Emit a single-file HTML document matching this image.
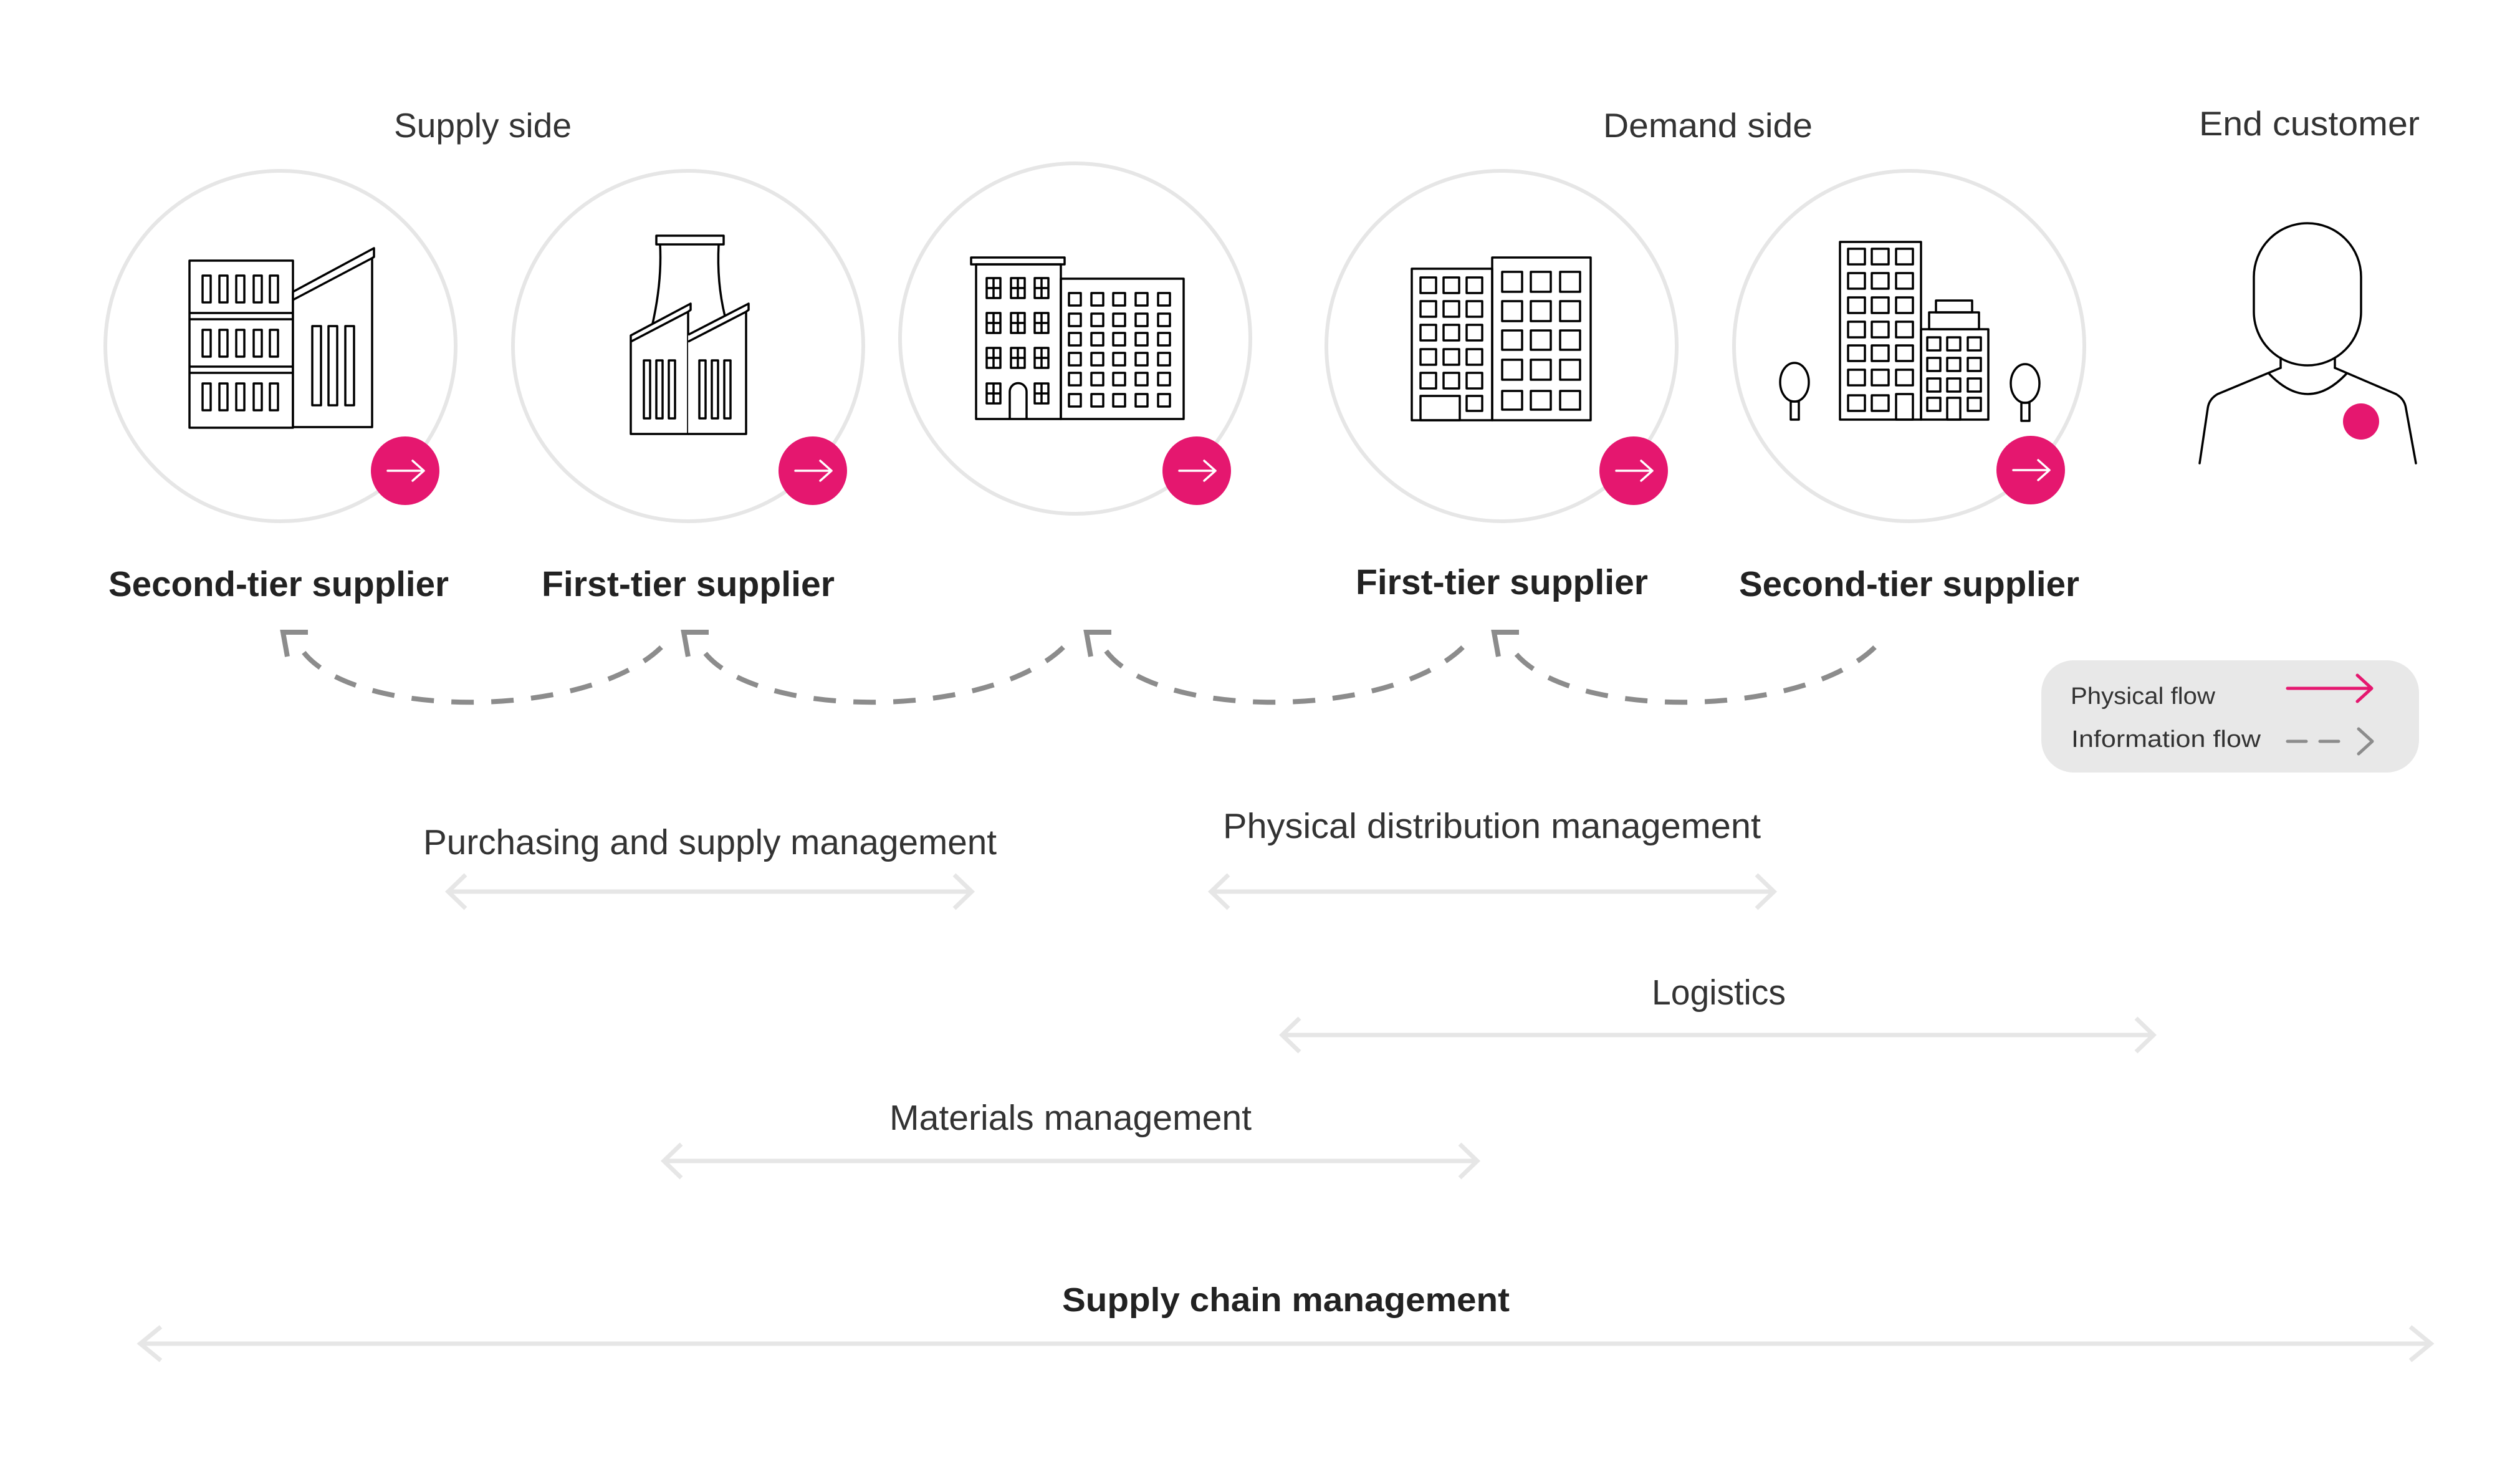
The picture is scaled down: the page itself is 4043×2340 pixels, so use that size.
<!DOCTYPE html>
<html>
<head>
<meta charset="utf-8">
<style>
  html,body{margin:0;padding:0;background:#fff;}
  svg{display:block;}
  text{font-family:"Liberation Sans",Arial,sans-serif;}
</style>
</head>
<body>
<svg width="4043" height="2340" viewBox="0 0 4043 2340" xmlns="http://www.w3.org/2000/svg">
  <rect x="0" y="0" width="4043" height="2340" fill="#ffffff"/>

  <!-- Headings -->
  <g fill="#333333" font-size="55">
    <text x="632" y="220" textLength="285" lengthAdjust="spacingAndGlyphs">Supply side</text>
    <text x="2572" y="220" textLength="336" lengthAdjust="spacingAndGlyphs">Demand side</text>
    <text x="3528" y="217" textLength="354" lengthAdjust="spacingAndGlyphs">End customer</text>
  </g>

  <!-- Circles -->
  <g fill="none" stroke="#e6e6e6" stroke-width="6">
    <circle cx="450" cy="555" r="281"/>
    <circle cx="1104" cy="555" r="281"/>
    <circle cx="1725" cy="543" r="281"/>
    <circle cx="2409" cy="555" r="281"/>
    <circle cx="3063" cy="555" r="281"/>
  </g>

  <!-- Icon 1: second-tier factory -->
  <g fill="none" stroke="#000" stroke-width="3.5" stroke-linejoin="round">
    <rect x="304" y="418" width="166" height="268" fill="#fff"/>
    <line x1="304" y1="502" x2="470" y2="502"/>
    <line x1="304" y1="512" x2="470" y2="512"/>
    <line x1="304" y1="588" x2="470" y2="588"/>
    <line x1="304" y1="598" x2="470" y2="598"/>
    <g>
      <rect x="325" y="442" width="13" height="43"/><rect x="352" y="442" width="13" height="43"/><rect x="379" y="442" width="13" height="43"/><rect x="407" y="442" width="13" height="43"/><rect x="433" y="442" width="13" height="43"/>
      <rect x="325" y="529" width="13" height="43"/><rect x="352" y="529" width="13" height="43"/><rect x="379" y="529" width="13" height="43"/><rect x="407" y="529" width="13" height="43"/><rect x="433" y="529" width="13" height="43"/>
      <rect x="325" y="615" width="13" height="43"/><rect x="352" y="615" width="13" height="43"/><rect x="379" y="615" width="13" height="43"/><rect x="407" y="615" width="13" height="43"/><rect x="433" y="615" width="13" height="43"/>
    </g>
    <path d="M470,468 L600,398 L600,412 L597,414 L597,685 L470,685 Z" fill="#fff"/>
    <line x1="470" y1="481" x2="597" y2="414"/>
    <rect x="501" y="523" width="14" height="127"/>
    <rect x="527" y="523" width="14" height="127"/>
    <rect x="554" y="523" width="14" height="127"/>
  </g>

  <!-- Icon 2: first-tier factory with chimney -->
  <g fill="none" stroke="#000" stroke-width="3.5" stroke-linejoin="round">
    <rect x="1053" y="378" width="108" height="14"/>
    <path d="M1059,392 C1061,430 1058,470 1047,519"/>
    <path d="M1153,392 C1151,430 1154,470 1163,507"/>
    <path d="M1012,696 L1012,538 L1108,487 L1108,497 L1104,500 L1104,696 Z" fill="#fff"/>
    <line x1="1012" y1="548" x2="1104" y2="500"/>
    <path d="M1104,537 L1201,487 L1201,497 L1197,500 L1197,696 L1104,696" fill="#fff"/>
    <line x1="1104" y1="548" x2="1197" y2="500"/>
    <rect x="1033" y="578" width="10" height="93"/>
    <rect x="1053" y="578" width="10" height="93"/>
    <rect x="1073" y="578" width="10" height="93"/>
    <rect x="1122" y="578" width="10" height="93"/>
    <rect x="1142" y="578" width="10" height="93"/>
    <rect x="1162" y="578" width="10" height="93"/>
  </g>

  <!-- Icon 3: buildings -->
  <g fill="none" stroke="#000" stroke-width="3.5" stroke-linejoin="round">
    <rect x="1558" y="413" width="150" height="11"/>
    <rect x="1566" y="424" width="136" height="248"/>
    <rect x="1702" y="447" width="197" height="225"/>
    <rect x="1583" y="446" width="22" height="32"/><line x1="1594" y1="446" x2="1594" y2="478"/><line x1="1583" y1="462" x2="1605" y2="462"/>
    <rect x="1622" y="446" width="22" height="32"/><line x1="1633" y1="446" x2="1633" y2="478"/><line x1="1622" y1="462" x2="1644" y2="462"/>
    <rect x="1660" y="446" width="22" height="32"/><line x1="1671" y1="446" x2="1671" y2="478"/><line x1="1660" y1="462" x2="1682" y2="462"/>
    <rect x="1583" y="502" width="22" height="32"/><line x1="1594" y1="502" x2="1594" y2="534"/><line x1="1583" y1="518" x2="1605" y2="518"/>
    <rect x="1622" y="502" width="22" height="32"/><line x1="1633" y1="502" x2="1633" y2="534"/><line x1="1622" y1="518" x2="1644" y2="518"/>
    <rect x="1660" y="502" width="22" height="32"/><line x1="1671" y1="502" x2="1671" y2="534"/><line x1="1660" y1="518" x2="1682" y2="518"/>
    <rect x="1583" y="558" width="22" height="32"/><line x1="1594" y1="558" x2="1594" y2="590"/><line x1="1583" y1="574" x2="1605" y2="574"/>
    <rect x="1622" y="558" width="22" height="32"/><line x1="1633" y1="558" x2="1633" y2="590"/><line x1="1622" y1="574" x2="1644" y2="574"/>
    <rect x="1660" y="558" width="22" height="32"/><line x1="1671" y1="558" x2="1671" y2="590"/><line x1="1660" y1="574" x2="1682" y2="574"/>
    <rect x="1583" y="615" width="22" height="32"/><line x1="1594" y1="615" x2="1594" y2="647"/><line x1="1583" y1="631" x2="1605" y2="631"/>
    <rect x="1660" y="615" width="22" height="32"/><line x1="1671" y1="615" x2="1671" y2="647"/><line x1="1660" y1="631" x2="1682" y2="631"/>
    <path d="M1620,672 L1620,628 A13.5,13.5 0 0 1 1647,628 L1647,672"/>
    <g>
      <rect x="1715" y="470" width="19" height="20"/><rect x="1751" y="470" width="19" height="20"/><rect x="1786" y="470" width="19" height="20"/><rect x="1822" y="470" width="19" height="20"/><rect x="1858" y="470" width="19" height="20"/>
      <rect x="1715" y="503" width="19" height="20"/><rect x="1751" y="503" width="19" height="20"/><rect x="1786" y="503" width="19" height="20"/><rect x="1822" y="503" width="19" height="20"/><rect x="1858" y="503" width="19" height="20"/>
      <rect x="1715" y="534" width="19" height="20"/><rect x="1751" y="534" width="19" height="20"/><rect x="1786" y="534" width="19" height="20"/><rect x="1822" y="534" width="19" height="20"/><rect x="1858" y="534" width="19" height="20"/>
      <rect x="1715" y="566" width="19" height="20"/><rect x="1751" y="566" width="19" height="20"/><rect x="1786" y="566" width="19" height="20"/><rect x="1822" y="566" width="19" height="20"/><rect x="1858" y="566" width="19" height="20"/>
      <rect x="1715" y="598" width="19" height="20"/><rect x="1751" y="598" width="19" height="20"/><rect x="1786" y="598" width="19" height="20"/><rect x="1822" y="598" width="19" height="20"/><rect x="1858" y="598" width="19" height="20"/>
      <rect x="1715" y="632" width="19" height="20"/><rect x="1751" y="632" width="19" height="20"/><rect x="1786" y="632" width="19" height="20"/><rect x="1822" y="632" width="19" height="20"/><rect x="1858" y="632" width="19" height="20"/>
    </g>
  </g>

  <!-- Icon 4: office buildings -->
  <g fill="none" stroke="#000" stroke-width="3.5" stroke-linejoin="round">
    <rect x="2265" y="431" width="129" height="243"/>
    <rect x="2394" y="413" width="158" height="261"/>
    <g>
      <rect x="2279" y="445" width="25" height="25"/><rect x="2316" y="445" width="25" height="25"/><rect x="2353" y="445" width="25" height="25"/>
      <rect x="2279" y="483" width="25" height="25"/><rect x="2316" y="483" width="25" height="25"/><rect x="2353" y="483" width="25" height="25"/>
      <rect x="2279" y="521" width="25" height="25"/><rect x="2316" y="521" width="25" height="25"/><rect x="2353" y="521" width="25" height="25"/>
      <rect x="2279" y="560" width="25" height="25"/><rect x="2316" y="560" width="25" height="25"/><rect x="2353" y="560" width="25" height="25"/>
      <rect x="2279" y="598" width="25" height="25"/><rect x="2316" y="598" width="25" height="25"/><rect x="2353" y="598" width="25" height="25"/>
      <rect x="2279" y="635" width="63" height="39"/>
      <rect x="2353" y="635" width="25" height="24"/>
    </g>
    <g>
      <rect x="2410" y="436" width="32" height="32"/><rect x="2456" y="436" width="32" height="32"/><rect x="2503" y="436" width="32" height="32"/>
      <rect x="2410" y="483" width="32" height="32"/><rect x="2456" y="483" width="32" height="32"/><rect x="2503" y="483" width="32" height="32"/>
      <rect x="2410" y="530" width="32" height="31"/><rect x="2456" y="530" width="32" height="31"/><rect x="2503" y="530" width="32" height="31"/>
      <rect x="2410" y="577" width="32" height="32"/><rect x="2456" y="577" width="32" height="32"/><rect x="2503" y="577" width="32" height="32"/>
      <rect x="2410" y="627" width="32" height="30"/><rect x="2456" y="627" width="32" height="30"/><rect x="2503" y="627" width="32" height="30"/>
    </g>
  </g>

  <!-- Icon 5: tower with trees -->
  <g fill="none" stroke="#000" stroke-width="3.5" stroke-linejoin="round">
    <ellipse cx="2879" cy="613" rx="23" ry="31"/>
    <rect x="2873" y="644" width="13" height="29"/>
    <ellipse cx="3249" cy="615" rx="23" ry="31"/>
    <rect x="3243" y="646" width="13" height="29"/>
    <rect x="2952" y="388" width="130" height="285"/>
    <g>
      <rect x="2965" y="399" width="27" height="25"/><rect x="3003" y="399" width="27" height="25"/><rect x="3042" y="399" width="27" height="25"/>
      <rect x="2965" y="438" width="27" height="25"/><rect x="3003" y="438" width="27" height="25"/><rect x="3042" y="438" width="27" height="25"/>
      <rect x="2965" y="477" width="27" height="25"/><rect x="3003" y="477" width="27" height="25"/><rect x="3042" y="477" width="27" height="25"/>
      <rect x="2965" y="516" width="27" height="25"/><rect x="3003" y="516" width="27" height="25"/><rect x="3042" y="516" width="27" height="25"/>
      <rect x="2965" y="554" width="27" height="25"/><rect x="3003" y="554" width="27" height="25"/><rect x="3042" y="554" width="27" height="25"/>
      <rect x="2965" y="593" width="27" height="25"/><rect x="3003" y="593" width="27" height="25"/><rect x="3042" y="593" width="27" height="25"/>
      <rect x="2965" y="634" width="27" height="25"/><rect x="3003" y="634" width="27" height="25"/>
      <rect x="3042" y="632" width="27" height="41"/>
    </g>
    <rect x="3106" y="482" width="58" height="19"/>
    <rect x="3095" y="501" width="80" height="27"/>
    <rect x="3082" y="528" width="108" height="145"/>
    <g>
      <rect x="3092" y="541" width="21" height="21"/><rect x="3124" y="541" width="21" height="21"/><rect x="3157" y="541" width="21" height="21"/>
      <rect x="3092" y="574" width="21" height="21"/><rect x="3124" y="574" width="21" height="21"/><rect x="3157" y="574" width="21" height="21"/>
      <rect x="3092" y="607" width="21" height="21"/><rect x="3124" y="607" width="21" height="21"/><rect x="3157" y="607" width="21" height="21"/>
      <rect x="3092" y="638" width="21" height="21"/><rect x="3157" y="638" width="21" height="21"/>
      <rect x="3124" y="638" width="21" height="35"/>
    </g>
  </g>

  <!-- Person -->
  <g fill="none" stroke="#000" stroke-width="3.5" stroke-linejoin="round" stroke-linecap="round">
    <path d="M3616,500 L3616,444 A86,86 0 0 1 3788,444 L3788,500 A86,86 0 0 1 3616,500 Z"/>
    <line x1="3659" y1="574" x2="3659" y2="590"/>
    <line x1="3746" y1="574" x2="3746" y2="590"/>
    <path d="M3659,590 L3558,632 Q3544,640 3542,655 L3529,743"/>
    <path d="M3746,590 L3844,632 Q3858,640 3860,655 L3876,743"/>
    <path d="M3641,600 Q3703,664 3764,600"/>
  </g>
  <circle cx="3788" cy="676" r="29" fill="#e5176f"/>

  <!-- Pink badges -->
  <g>
    <circle cx="650" cy="755" r="55" fill="#e5176f"/>
    <circle cx="1304" cy="755" r="55" fill="#e5176f"/>
    <circle cx="1920" cy="755" r="55" fill="#e5176f"/>
    <circle cx="2621" cy="755" r="55" fill="#e5176f"/>
    <circle cx="3258" cy="754" r="55" fill="#e5176f"/>
  </g>
  <g fill="none" stroke="#fff" stroke-width="3.5" stroke-linecap="round" stroke-linejoin="round">
    <path d="M622,755 L680,755 M662,739 L680,755 L662,771"/>
    <path d="M1276,755 L1334,755 M1316,739 L1334,755 L1316,771"/>
    <path d="M1892,755 L1950,755 M1932,739 L1950,755 L1932,771"/>
    <path d="M2593,755 L2651,755 M2633,739 L2651,755 L2633,771"/>
    <path d="M3230,754 L3288,754 M3270,738 L3288,754 L3270,770"/>
  </g>

  <!-- Bold labels -->
  <g fill="#222222" font-size="57" font-weight="bold">
    <text x="174" y="956" textLength="546" lengthAdjust="spacingAndGlyphs">Second-tier supplier</text>
    <text x="869" y="956" textLength="470" lengthAdjust="spacingAndGlyphs">First-tier supplier</text>
    <text x="2175" y="953" textLength="469" lengthAdjust="spacingAndGlyphs">First-tier supplier</text>
    <text x="2790" y="956" textLength="546" lengthAdjust="spacingAndGlyphs">Second-tier supplier</text>
  </g>

  <!-- Dashed information flow arcs -->
  <g fill="none" stroke="#8c8c8c" stroke-width="8">
    <path d="M1061,1038 C941,1155 564,1155 484,1042" stroke-dasharray="36 28"/>
    <path d="M1706,1038 C1586,1155 1207,1155 1127,1042" stroke-dasharray="36 28"/>
    <path d="M2347,1038 C2227,1155 1853,1155 1773,1042" stroke-dasharray="36 28"/>
    <path d="M3008,1038 C2888,1155 2507,1155 2427,1042" stroke-dasharray="36 28"/>
    <path d="M494,1014 L454,1014 L461,1053"/>
    <path d="M1137,1014 L1097,1014 L1104,1053"/>
    <path d="M1783,1014 L1743,1014 L1750,1053"/>
    <path d="M2437,1014 L2397,1014 L2404,1053"/>
  </g>

  <!-- Legend -->
  <rect x="3275" y="1059" width="606" height="180" rx="52" ry="52" fill="#e8e8e8"/>
  <g fill="#333333" font-size="38">
    <text x="3322" y="1129" textLength="232" lengthAdjust="spacingAndGlyphs">Physical flow</text>
    <text x="3323" y="1198" textLength="304" lengthAdjust="spacingAndGlyphs">Information flow</text>
  </g>
  <g fill="none" stroke-width="5" stroke-linecap="round" stroke-linejoin="round">
    <path d="M3670,1104 L3805,1104 M3782,1083 L3805,1104 L3782,1125" stroke="#e5176f"/>
    <path d="M3670,1189 L3700,1189 M3722,1189 L3752,1189 M3784,1169 L3806,1189 L3784,1209" stroke="#8c8c8c"/>
  </g>

  <!-- Management labels -->
  <g fill="#333333" font-size="57">
    <text x="679" y="1370" textLength="920" lengthAdjust="spacingAndGlyphs">Purchasing and supply management</text>
    <text x="1962" y="1344" textLength="863" lengthAdjust="spacingAndGlyphs">Physical distribution management</text>
    <text x="2650" y="1611" textLength="215" lengthAdjust="spacingAndGlyphs">Logistics</text>
    <text x="1427" y="1812" textLength="581" lengthAdjust="spacingAndGlyphs">Materials management</text>
  </g>
  <text x="1704" y="2103" fill="#222222" font-size="54" font-weight="bold" textLength="718" lengthAdjust="spacingAndGlyphs">Supply chain management</text>

  <!-- Double-headed light gray arrows -->
  <g fill="none" stroke="#e6e6e6" stroke-width="7" stroke-linejoin="miter">
    <path d="M719,1430 L1559,1430 M747,1403 L719,1430 L747,1457 M1531,1403 L1559,1430 L1531,1457"/>
    <path d="M1943,1430 L2846,1430 M1971,1403 L1943,1430 L1971,1457 M2818,1403 L2846,1430 L2818,1457"/>
    <path d="M2057,1660 L3455,1660 M2085,1633 L2057,1660 L2085,1687 M3427,1633 L3455,1660 L3427,1687"/>
    <path d="M1065,1862 L2370,1862 M1093,1835 L1065,1862 L1093,1889 M2342,1835 L2370,1862 L2342,1889"/>
    <path d="M225,2155 L3900,2155 M258,2128 L225,2155 L258,2182 M3867,2128 L3900,2155 L3867,2182"/>
  </g>
</svg>
</body>
</html>
